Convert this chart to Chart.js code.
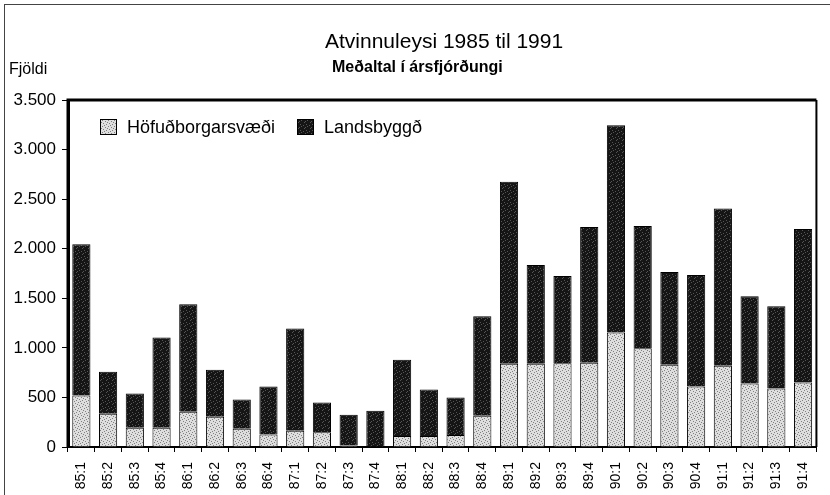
<!DOCTYPE html>
<html>
<head>
<meta charset="utf-8">
<script src="https://cdn.jsdelivr.net/npm/chart.js@4"></script>
<style>
  html, body { margin: 0; padding: 0; background: #fff; }
  #wrap { position: relative; width: 830px; height: 495px; }
  #frame { position: absolute; left: 4px; top: 4px; width: 826px; height: 491px;
           border-left: 1px solid #444; border-top: 1px solid #444; pointer-events: none; }
</style>
</head>
<body>
<div id="wrap">
  <canvas id="chart" width="830" height="495"></canvas>
  <div id="frame"></div>
</div>
<script>
const quarters = ['85:1','85:2','85:3','85:4','86:1','86:2','86:3','86:4',
                  '87:1','87:2','87:3','87:4','88:1','88:2','88:3','88:4',
                  '89:1','89:2','89:3','89:4','90:1','90:2','90:3','90:4',
                  '91:1','91:2','91:3','91:4'];

// Höfuðborgarsvæði (bottom, light)
const hofudborgarsvaedi = [520, 335, 195, 195, 355, 305, 185, 125,
                           165, 150, 15, 5, 110, 110, 120, 315,
                           840, 840, 845, 850, 1155, 995, 830, 610,
                           820, 640, 590, 650];

// Landsbyggð (top, dark)
const landsbyggd = [1525, 425, 345, 910, 1085, 475, 295, 485,
                    1030, 300, 310, 360, 770, 470, 380, 1005,
                    1835, 995, 880, 1370, 2090, 1235, 935, 1125,
                    1585, 880, 830, 1550];

const yTicks = [0, 500, 1000, 1500, 2000, 2500, 3000, 3500];

const FONT = 'Liberation Sans, Arial, sans-serif';

// stippled fills like the printed original
function makePattern(bg, dot, dots) {
    const c = document.createElement('canvas');
    c.width = 6; c.height = 6;
    const g = c.getContext('2d');
    g.fillStyle = bg;
    g.fillRect(0, 0, 6, 6);
    g.fillStyle = dot;
    dots.forEach(p => g.fillRect(p[0], p[1], 1, 1));
    return g.createPattern(c, 'repeat');
}
const ctx = document.getElementById('chart').getContext('2d');
const lightFill = makePattern('#dedede', '#808080', [[0,0],[3,1],[1,3],[4,4],[2,5],[5,2]]);
const darkFill = makePattern('#151515', '#555555', [[1,0],[4,2],[0,4],[3,5],[5,1]]);

const textPlugin = {
    id: 'texts',
    afterDraw(chart) {
        const c = chart.ctx;
        const area = chart.chartArea;
        c.save();
        c.fillStyle = '#000';
        c.textBaseline = 'middle';
        c.textAlign = 'left';
        c.font = '21px ' + FONT;
        c.fillText('Atvinnuleysi 1985 til 1991', 325, 42);
        c.font = 'bold 16px ' + FONT;
        c.fillText('Meðaltal í ársfjórðungi', 332, 68);
        c.font = '16px ' + FONT;
        c.fillText('Fjöldi', 9, 70);

        // legend inside plot
        c.font = '18px ' + FONT;
        const items = chart.data.datasets;
        let x = 100;
        items.forEach((ds, i) => {
            c.fillStyle = ds.backgroundColor;
            c.fillRect(x, 119, 17, 16);
            c.strokeStyle = '#000';
            c.lineWidth = 1;
            c.strokeRect(x + 0.5, 119.5, 16, 15);
            c.fillStyle = '#000';
            c.fillText(ds.label, x + 27, 128);
            x += 197;
        });

        // plot frame
        c.strokeStyle = '#000';
        c.lineWidth = 3;
        c.beginPath();
        c.moveTo(area.left, area.bottom);
        c.lineTo(area.left, area.top);
        c.lineTo(area.right, area.top);
        c.stroke();
        c.lineWidth = 2;
        c.beginPath();
        c.moveTo(area.right, area.top);
        c.lineTo(area.right, area.bottom);
        c.stroke();
        c.restore();
    }
};

new Chart(ctx, {
    type: 'bar',
    data: {
        labels: quarters,
        datasets: [
            {
                label: 'Höfuðborgarsvæði',
                data: hofudborgarsvaedi,
                backgroundColor: lightFill,
                borderColor: '#000',
                borderWidth: 1,
                barPercentage: 0.68,
                categoryPercentage: 1
            },
            {
                label: 'Landsbyggð',
                data: landsbyggd,
                backgroundColor: darkFill,
                borderColor: '#000',
                borderWidth: 1,
                barPercentage: 0.68,
                categoryPercentage: 1
            }
        ]
    },
    options: {
        responsive: false,
        animation: false,
        layout: { padding: { top: 100, left: 8, right: 8, bottom: 0 } },
        plugins: {
            legend: { display: false },
            tooltip: { enabled: false }
        },
        scales: {
            x: {
                stacked: true,
                afterFit: scale => { scale.height = 48; },
                grid: { drawOnChartArea: false, tickLength: 5, color: '#000', offset: true },
                border: { color: '#000', width: 2 },
                ticks: {
                    color: '#000',
                    font: { family: FONT, size: 14 },
                    minRotation: 90,
                    maxRotation: 90,
                    padding: 10,
                    autoSkip: false
                }
            },
            y: {
                stacked: true,
                min: 0,
                max: 3500,
                afterFit: scale => { scale.width = 60; },
                afterBuildTicks: scale => { scale.ticks = yTicks.map(v => ({ value: v })); },
                grid: { drawOnChartArea: false, tickLength: 6, color: '#000' },
                border: { color: '#000', width: 3 },
                ticks: {
                    color: '#000',
                    font: { family: FONT, size: 17 },
                    padding: 6,
                    callback: value => value.toLocaleString('de-DE')
                }
            }
        }
    },
    plugins: [textPlugin]
});
</script>
</body>
</html>
